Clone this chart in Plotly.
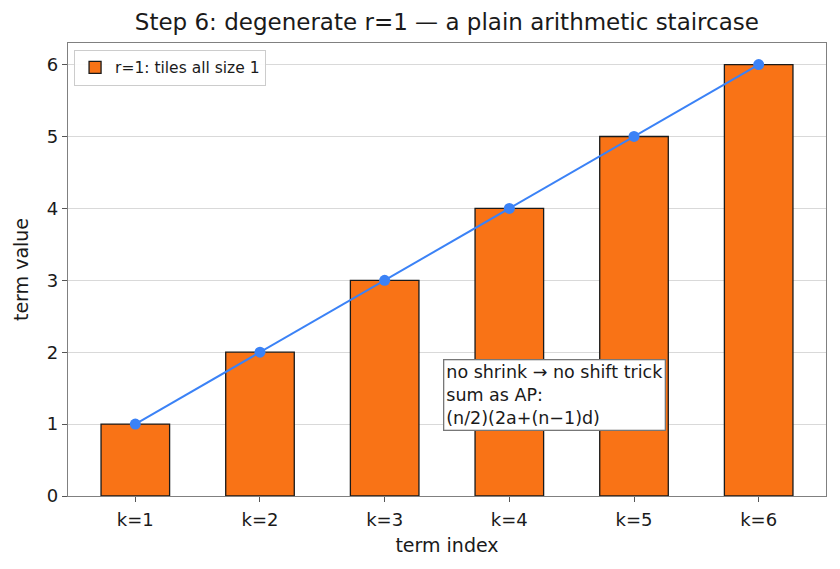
import plotly.graph_objects as go

categories = ["k=1", "k=2", "k=3", "k=4", "k=5", "k=6"]
values = [1, 2, 3, 4, 5, 6]
legend_label = "r=1: tiles all size 1"
title = "Step 6: degenerate r=1 — a plain arithmetic staircase"
note = "no shrink → no shift trick<br>sum as AP:<br>(n/2)(2a+(n−1)d)"

FONT = "DejaVu Sans"
fig = go.Figure()
fig.add_trace(go.Bar(
    x=categories, y=values, name=legend_label, width=0.55,
    marker=dict(color="#f97316", line=dict(color="#1a1a1a", width=1.3)),
))
fig.add_trace(go.Scatter(
    x=categories, y=values, mode="lines+markers", showlegend=False,
    line=dict(color="#3b82f6", width=2), marker=dict(color="#3b82f6", size=11),
))
fig.add_annotation(
    x=2.47, y=0.9, xref="x", yref="y", text=note, showarrow=False,
    xanchor="left", yanchor="bottom", align="left",
    font=dict(family=FONT, size=17.5, color="#1a1a1a"),
    bgcolor="white", bordercolor="#777777", borderwidth=1.3, borderpad=2,
)
fig.update_layout(
    width=840, height=569, template="none",
    paper_bgcolor="white", plot_bgcolor="white",
    margin=dict(l=68, r=14, t=43, b=73),
    font=dict(family=FONT, size=18, color="#1a1a1a"),
    title=dict(text=title, x=0.532, xanchor="center", y=0.962, yanchor="middle",
               font=dict(family=FONT, size=23, color="#1a1a1a")),
    showlegend=True,
    legend=dict(x=0.008, y=0.985, xanchor="left", yanchor="top",
                bgcolor="rgba(255,255,255,0.9)", bordercolor="#cccccc", borderwidth=1,
                font=dict(family=FONT, size=15.5), itemwidth=30,
                tracegroupgap=0),
    bargap=0.45,
)
fig.update_xaxes(
    type="category", range=[-0.54, 5.54],
    title=dict(text="term index", font=dict(size=19), standoff=9),
    showline=True, linecolor="#808080", linewidth=1.3, mirror=True,
    ticks="outside", ticklen=5, tickcolor="#555555", showgrid=False, zeroline=False,
    ticklabelstandoff=2,
)
fig.update_yaxes(
    range=[0, 6.3], dtick=1,
    title=dict(text="term value", font=dict(size=19), standoff=13),
    showline=True, linecolor="#808080", linewidth=1.3, mirror=True,
    ticks="outside", ticklen=5, tickcolor="#555555",
    showgrid=True, gridcolor="#d9d9d9", gridwidth=0.8, zeroline=False,
)
fig.write_html("out.html")
